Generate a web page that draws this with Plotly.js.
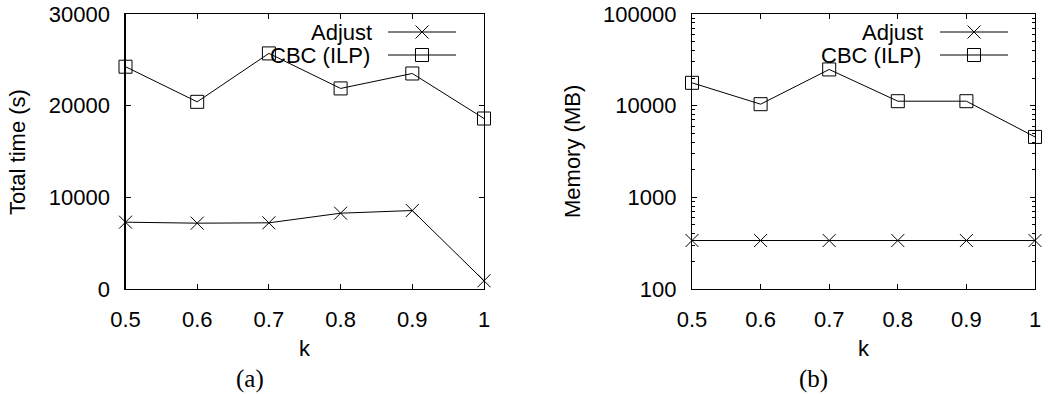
<!DOCTYPE html>
<html>
<head>
<meta charset="utf-8">
<script src="https://cdn.plot.ly/plotly-3.0.1.min.js"></script>
<style>
  html, body { margin: 0; padding: 0; background: #fff; }
  #chart { width: 1049px; height: 394px; }
</style>
</head>
<body>
<div id="chart"></div>
<script>
// k values on the horizontal axis
const kValues = [0.5, 0.6, 0.7, 0.8, 0.9, 1.0];

// (a) total running time in seconds
const timeAdjust = [7290, 7180, 7220, 8270, 8560, 900];
const timeCBC = [24250, 20420, 25700, 21880, 23510, 18600];

// (b) peak memory in MB
const memAdjust = [338, 338, 338, 338, 338, 338];
const memCBC = [17750, 10380, 24840, 11190, 11190, 4560];

const seriesNames = ['Adjust', 'CBC (ILP)'];
const xTickVals = [0.5, 0.6, 0.7, 0.8, 0.9, 1];
const xTickText = ['0.5', '0.6', '0.7', '0.8', '0.9', '1'];
const timeTicks = [0, 10000, 20000, 30000];
const memTicks = [100, 1000, 10000, 100000];

const W = 1049, H = 394;
const px = x => x / W;
const py = y => 1 - y / H;

const SANS = 'Liberation Sans, Arial, sans-serif';
const SERIF = 'Liberation Serif, Times New Roman, serif';

function series(x, y, name, symbol, xa, ya) {
  return {
    x: x, y: y, name: name, xaxis: xa, yaxis: ya,
    type: 'scatter', mode: 'lines+markers', cliponaxis: false,
    line: { color: '#000', width: 1 },
    marker: { symbol: symbol, size: 13, color: '#000', line: { color: '#000', width: 1 } },
    showlegend: false
  };
}

const traces = [
  series(kValues, timeAdjust, seriesNames[0], 'x-thin-open', 'x', 'y'),
  series(kValues, timeCBC, seriesNames[1], 'square-open', 'x', 'y'),
  series(kValues, memAdjust, seriesNames[0], 'x-thin-open', 'x2', 'y2'),
  series(kValues, memCBC, seriesNames[1], 'square-open', 'x2', 'y2')
];

const axisBase = {
  showline: true, linecolor: '#000', linewidth: 1.2, mirror: 'allticks',
  ticks: 'inside', ticklen: 5, tickwidth: 1, tickcolor: '#000',
  showgrid: false, zeroline: false,
  tickfont: { family: SANS, size: 22, color: '#000' },
  ticklabelstandoff: 10
};

const xAxis = (domain, anchor) => Object.assign({}, axisBase, {
  domain: domain, anchor: anchor, range: [0.5, 1],
  tickmode: 'array', tickvals: xTickVals, ticktext: xTickText
});

const layout = {
  width: W, height: H,
  margin: { l: 0, r: 0, t: 0, b: 0 },
  paper_bgcolor: '#fff', plot_bgcolor: '#fff',
  showlegend: false,
  xaxis: xAxis([px(125.5), px(484)], 'y'),
  xaxis2: xAxis([px(692), px(1035)], 'y2'),
  yaxis: Object.assign({}, axisBase, {
    domain: [py(289), py(14)], anchor: 'x', range: [0, 30000],
    tickmode: 'array', tickvals: timeTicks, ticktext: timeTicks.map(String)
  }),
  yaxis2: Object.assign({}, axisBase, {
    domain: [py(289), py(14)], anchor: 'x2', type: 'log', range: [2, 5],
    dtick: 1, exponentformat: 'none', tickformat: 'd',
    minor: { ticks: 'inside', ticklen: 3, tickwidth: 1, tickcolor: '#000', dtick: 'D1', showgrid: false }
  }),
  annotations: [],
  shapes: []
};

function text(str, x, y, opts) {
  layout.annotations.push(Object.assign({
    text: str, x: px(x), y: py(y), xref: 'paper', yref: 'paper',
    showarrow: false, xanchor: 'center', yanchor: 'middle',
    font: { family: SANS, size: 22, color: '#000' }
  }, opts || {}));
}

// axis titles
text('k', 305, 348);
text('k', 863.5, 348);
text('Total time (s)', 17, 152, { textangle: -90 });
text('Memory (MB)', 572, 152, { textangle: -90 });

// panel captions
text('(a)', 250, 379, { font: { family: SERIF, size: 25, color: '#000' } });
text('(b)', 813, 379, { font: { family: SERIF, size: 25, color: '#000' } });

// key: label on the left, sample line with its symbol on the right
function line(x0, y0, x1, y1) {
  layout.shapes.push({
    type: 'line', xref: 'paper', yref: 'paper',
    x0: px(x0), y0: py(y0), x1: px(x1), y1: py(y1),
    line: { color: '#000', width: 1 }
  });
}
function keyEntry(label, textRight, lineL, lineR, y, symbol) {
  text(label, textRight, y, { xanchor: 'right' });
  line(lineL, y, lineR, y);
  const cx = (lineL + lineR) / 2;
  if (symbol === 'x') {
    line(cx - 6.5, y - 6.5, cx + 6.5, y + 6.5);
    line(cx - 6.5, y + 6.5, cx + 6.5, y - 6.5);
  } else {
    layout.shapes.push({
      type: 'rect', xref: 'paper', yref: 'paper',
      x0: px(cx - 6.5), y0: py(y - 6.5), x1: px(cx + 6.5), y1: py(y + 6.5),
      line: { color: '#000', width: 1 }
    });
  }
}
keyEntry(seriesNames[0], 374, 388, 456, 32, 'x');
keyEntry(seriesNames[1], 372, 388, 456, 55, 'sq');
keyEntry(seriesNames[0], 925, 940, 1008, 32, 'x');
keyEntry(seriesNames[1], 923, 940, 1008, 55, 'sq');

Plotly.newPlot('chart', traces, layout, { staticPlot: true, displayModeBar: false });
</script>
</body>
</html>
